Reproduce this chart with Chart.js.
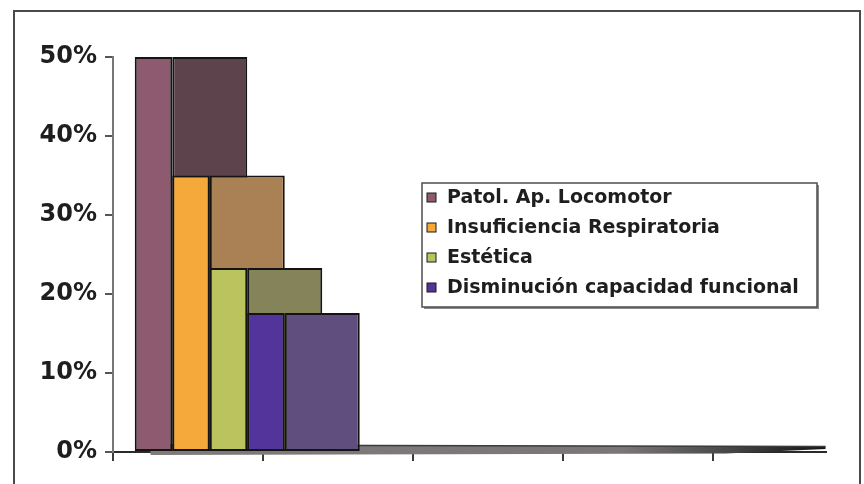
<!DOCTYPE html>
<html><head><meta charset="utf-8">
<script src="https://cdn.jsdelivr.net/npm/chart.js@4.4.1/dist/chart.umd.min.js"></script>
<style>
html,body{margin:0;padding:0;background:#fff;}
#wrap{position:relative;width:864px;height:484px;overflow:hidden;}
#frame{position:absolute;left:13px;top:10px;width:848px;height:520px;border:2px solid #4a4a4a;box-sizing:border-box;}
canvas{position:absolute;left:0;top:0;}
</style></head><body>
<div id="wrap"><div id="frame"></div><canvas id="c" width="864" height="484"></canvas></div>
<script>
// ---- data ----
const categories = ['Patol. Ap. Locomotor', 'Insuficiencia Respiratoria', 'Estética', 'Disminución capacidad funcional'];
const values = [50, 35, 23.3, 17.6];
const yTickValues = [0, 10, 20, 30, 40, 50];
const xTickValues = [0, 4, 8, 12, 16];
const frontColors = ['#8e5a70', '#f5a93a', '#bac35e', '#52349a'];
const sideColors = ['#5d434b', '#a98155', '#848359', '#604e7e'];

// ---- layout helpers (scale units) ----
const FRONT_OFFSET = 1.08;   // centre of the front face of series i: i + FRONT_OFFSET
const SIDE_OFFSET = 2.58;    // centre of the depth face of series i: i + SIDE_OFFSET

const datasets = [];
categories.forEach((name, i) => {
  datasets.push({
    label: name,
    data: [{x: i + FRONT_OFFSET, y: values[i]}],
    backgroundColor: frontColors[i],
    borderColor: '#141414', borderWidth: 2, borderSkipped: false,
    grouped: false, barPercentage: 2, categoryPercentage: 1, order: 0
  });
});
categories.forEach((name, i) => {
  datasets.push({
    label: name + ' (profundidad)',
    data: [{x: i + SIDE_OFFSET, y: values[i]}],
    backgroundColor: sideColors[i],
    borderColor: '#141414', borderWidth: 2, borderSkipped: false,
    grouped: false, barPercentage: 4, categoryPercentage: 1, order: 10 - i
  });
});

const floorPlugin = {
  id: 'floor',
  beforeDatasetsDraw(chart) {
    const {ctx, scales: {x, y}} = chart;
    const y0 = y.getPixelForValue(0);
    const xa = x.getPixelForValue(1), xb = x.getPixelForValue(x.max);
    ctx.save();
    const g = ctx.createLinearGradient(xa, 0, xb, 0);
    g.addColorStop(0, '#7f7b7b'); g.addColorStop(0.7, '#7a7676'); g.addColorStop(0.85, '#4a4848'); g.addColorStop(1, '#151515');
    ctx.beginPath();
    ctx.moveTo(xa, y0 - 7); ctx.lineTo(xb, y0 - 5.5); ctx.lineTo(xb, y0 - 3);
    ctx.lineTo(xb - 100, y0 + 1.5); ctx.lineTo(xa, y0 + 3); ctx.closePath();
    ctx.fillStyle = g; ctx.fill();
    ctx.beginPath(); ctx.moveTo(xa, y0 - 7); ctx.lineTo(xb, y0 - 5.5);
    ctx.strokeStyle = '#3c3a3a'; ctx.lineWidth = 1.5; ctx.stroke();
    ctx.restore();
  }
};

const legendPlugin = {
  id: 'boxLegend',
  afterDatasetsDraw(chart, args, o) {
    const ctx = chart.ctx;
    ctx.save();
    const w = o.right - o.left, h = o.bottom - o.top;
    ctx.fillStyle = '#8a8a8a';
    ctx.fillRect(o.left + 2, o.top + 2, w, h);
    ctx.fillStyle = '#fff';
    ctx.fillRect(o.left, o.top, w, h);
    ctx.strokeStyle = '#4d4d4d'; ctx.lineWidth = 1.5;
    ctx.strokeRect(o.left, o.top, w, h);
    ctx.font = 'bold 19px "DejaVu Sans"';
    ctx.textBaseline = 'middle'; ctx.textAlign = 'left';
    categories.forEach((name, i) => {
      const cy = o.rowTop + i * o.rowGap;
      ctx.fillStyle = frontColors[i];
      ctx.fillRect(o.swatchX, cy - o.swatch / 2, o.swatch, o.swatch);
      ctx.strokeStyle = '#1b1b1b'; ctx.lineWidth = 1;
      ctx.strokeRect(o.swatchX, cy - o.swatch / 2, o.swatch, o.swatch);
      ctx.fillStyle = '#1e1e1e';
      ctx.fillText(name, o.textX, cy + 1);
    });
    ctx.restore();
  }
};

new Chart(document.getElementById('c'), {
  type: 'bar',
  data: {datasets},
  plugins: [floorPlugin, legendPlugin],
  options: {
    responsive: false, animation: false,
    layout: {padding: {top: 57, right: 38.5, left: 0, bottom: 0}},
    plugins: {
      legend: {display: false}, tooltip: {enabled: false},
      boxLegend: {left: 422, top: 183, right: 817, bottom: 307, rowTop: 197.5, rowGap: 30, swatch: 9, swatchX: 427, textX: 447}
    },
    scales: {
      x: {
        type: 'linear', min: 0, max: 19, offset: false,
        afterBuildTicks: s => { s.ticks = xTickValues.map(v => ({value: v})); },
        afterFit: s => { s.height = 32; },
        ticks: {display: false},
        grid: {offset: false, drawOnChartArea: false, drawTicks: true, tickLength: 9, color: '#3a3a3a', lineWidth: 2},
        border: {display: true, color: '#2a2a2a', width: 2}
      },
      y: {
        min: 0, max: 50,
        afterBuildTicks: s => { s.ticks = yTickValues.map(v => ({value: v})); },
        afterFit: s => { s.width = 113; },
        ticks: {callback: v => v + '%', color: '#1e1e1e', padding: 8,
                font: {family: '"DejaVu Sans"', weight: 'bold', size: 24}},
        grid: {drawOnChartArea: false, tickLength: 8, color: '#555', lineWidth: 2},
        border: {display: true, color: '#777', width: 2}
      }
    }
  }
});
</script>
</body></html>
